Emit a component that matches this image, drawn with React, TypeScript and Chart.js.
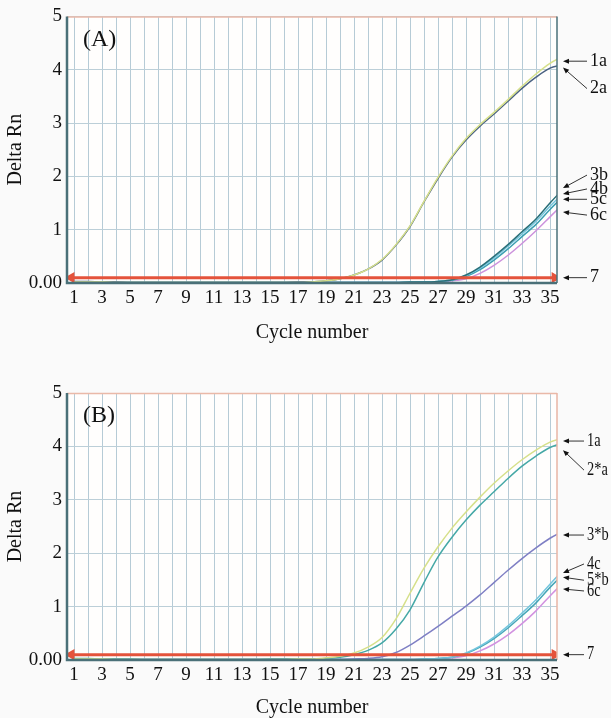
import React, { useEffect, useRef } from 'react';
import { Chart, registerables } from 'chart.js';
Chart.register(...registerables);

const cycles: number[] = Array.from({ length: 36 }, (_, i) => i + 1);
const xTickLabels: number[] = [1, 3, 5, 7, 9, 11, 13, 15, 17, 19, 21, 23, 25, 27, 29, 31, 33, 35];
const yTickLabels: string[] = ['0.00', '1', '2', '3', '4', '5'];
const threshold = 0.1;

// Panel A series (Delta Rn per cycle 1..36)
const a1a: number[] = [0.02,0.02,0.02,0.01,0.01,0.01,0.01,0.01,0.01,0.01,0.01,0.01,0.01,0.01,0.01,0.01,0.01,0.02,0.04,0.08,0.15,0.26,0.44,0.72,1.07,1.53,1.98,2.38,2.71,2.97,3.2,3.44,3.69,3.92,4.12,4.26];
const a2a: number[] = [0.03,0.03,0.02,0.02,0.01,0.01,0.01,0.01,0.01,0.01,0.01,0.01,0.01,0.01,0.01,0.01,0.02,0.02,0.04,0.08,0.15,0.26,0.43,0.71,1.06,1.52,1.96,2.36,2.68,2.94,3.17,3.41,3.65,3.86,4.03,4.1];
const a3b: number[] = [0.02,0.02,0.01,0.01,0.01,0.01,0.01,0.01,0.01,0.01,0.01,0.01,0.01,0.01,0.01,0.01,0.01,0.01,0.01,0.01,0.01,0.01,0.01,0.01,0.02,0.02,0.03,0.06,0.15,0.3,0.5,0.72,0.96,1.2,1.5,1.78];
const a4b: number[] = [0.01,0.01,0.01,0.01,0.01,0.01,0.01,0.01,0.01,0.01,0.01,0.01,0.01,0.01,0.01,0.01,0.01,0.01,0.01,0.01,0.01,0.01,0.01,0.01,0.02,0.02,0.03,0.06,0.14,0.28,0.47,0.69,0.92,1.16,1.44,1.7];
const a5c: number[] = [0.02,0.02,0.01,0.01,0.01,0.01,0.01,0.01,0.01,0.01,0.01,0.01,0.01,0.01,0.01,0.01,0.01,0.01,0.01,0.01,0.01,0.01,0.01,0.01,0.01,0.02,0.03,0.05,0.12,0.25,0.43,0.64,0.87,1.1,1.38,1.64];
const a6c: number[] = [0.01,0.01,0.01,0.01,0.01,0.01,0.01,0.01,0.01,0.01,0.01,0.01,0.01,0.01,0.01,0.01,0.01,0.01,0.01,0.01,0.01,0.01,0.01,0.01,0.01,0.02,0.02,0.04,0.08,0.18,0.33,0.52,0.74,0.98,1.24,1.5];

// Panel B series
const b1a: number[] = [0.02,0.02,0.02,0.01,0.01,0.01,0.01,0.01,0.01,0.01,0.01,0.01,0.01,0.01,0.01,0.01,0.02,0.02,0.04,0.07,0.13,0.24,0.42,0.77,1.25,1.72,2.12,2.47,2.77,3.05,3.31,3.54,3.75,3.93,4.08,4.16];
const b2a: number[] = [0.03,0.03,0.02,0.02,0.02,0.01,0.01,0.01,0.01,0.01,0.01,0.01,0.01,0.01,0.02,0.02,0.02,0.02,0.03,0.05,0.1,0.18,0.32,0.58,0.94,1.45,1.93,2.3,2.62,2.9,3.15,3.4,3.63,3.82,3.98,4.07];
const b3b: number[] = [0.01,0.01,0.01,0.01,0.01,0.01,0.01,0.01,0.01,0.01,0.01,0.01,0.01,0.01,0.01,0.01,0.01,0.01,0.01,0.01,0.02,0.03,0.06,0.14,0.28,0.45,0.63,0.82,1.01,1.22,1.45,1.68,1.9,2.1,2.28,2.42];
const b4c: number[] = [0.01,0.01,0.01,0.01,0.01,0.01,0.01,0.01,0.01,0.01,0.01,0.01,0.01,0.01,0.01,0.01,0.01,0.01,0.01,0.01,0.01,0.01,0.01,0.01,0.01,0.02,0.03,0.05,0.13,0.26,0.43,0.64,0.88,1.13,1.42,1.7];
const b5b: number[] = [0.01,0.01,0.01,0.01,0.01,0.01,0.01,0.01,0.01,0.01,0.01,0.01,0.01,0.01,0.01,0.01,0.01,0.01,0.01,0.01,0.01,0.01,0.01,0.01,0.01,0.02,0.03,0.05,0.12,0.24,0.4,0.6,0.83,1.07,1.36,1.62];
const b6c: number[] = [0.01,0.01,0.01,0.01,0.01,0.01,0.01,0.01,0.01,0.01,0.01,0.01,0.01,0.01,0.01,0.01,0.01,0.01,0.01,0.01,0.01,0.01,0.01,0.01,0.01,0.01,0.02,0.04,0.08,0.17,0.3,0.47,0.68,0.92,1.2,1.46];

// Right-hand labels: text, value where arrow points, vertical text offset (px)
const aNoteText: string[] = ['1a', '2a', '3b', '4b', '5c', '6c', '7'];
const aNoteTip: number[] = [4.16, 4.04, 1.78, 1.67, 1.57, 1.33, threshold];
const aNoteDy: number[] = [0, 21, -13, -5, 0, 3, 0];

const bNoteText: string[] = ['1a', '2*a', '3*b', '4c', '5*b', '6c', '7'];
const bNoteTip: number[] = [4.1, 3.93, 2.34, 1.63, 1.55, 1.33, threshold];
const bNoteDy: number[] = [0, 20, 0, -9, 3, 2, 0];

const SERIF = "'Liberation Serif', 'Times New Roman', serif";

type Series = { label: string; data: number[]; color: string };
type Props = {
  top: number;
  height: number;
  plotTop: number;
  xAxisH: number;
  titlePad: number;
  panel: string;
  series: Series[];
  noteText: string[];
  noteTip: number[];
  noteDy: number[];
  noteScaleX: number;
  noteGap: number;
  rightBorder: string;
};

function QpcrPanel(p: Props) {
  const ref = useRef<HTMLCanvasElement | null>(null);
  useEffect(() => {
    if (!ref.current) return;
    const decor = {
      id: 'decor',
      beforeDraw(chart: any) {
        const { ctx, chartArea: a } = chart;
        ctx.save();
        ctx.fillStyle = '#fffefd';
        ctx.fillRect(a.left, a.top, a.right - a.left, a.bottom - a.top);
        ctx.restore();
      },
      afterDraw(chart: any) {
        const { ctx, chartArea: a } = chart;
        const y = chart.scales.y;
        ctx.save();
        // frame
        ctx.lineWidth = 1.5;
        ctx.strokeStyle = '#eab9a8';
        ctx.beginPath();
        ctx.moveTo(a.left, a.top + 0.5);
        ctx.lineTo(a.right, a.top + 0.5);
        ctx.stroke();
        ctx.strokeStyle = p.rightBorder;
        ctx.beginPath();
        ctx.moveTo(a.right, a.top);
        ctx.lineTo(a.right, a.bottom);
        ctx.stroke();
        ctx.lineWidth = 2.5;
        ctx.strokeStyle = '#4a7078';
        ctx.beginPath();
        ctx.moveTo(a.left, a.top);
        ctx.lineTo(a.left, a.bottom);
        ctx.lineTo(a.right, a.bottom);
        ctx.stroke();
        // panel label
        ctx.fillStyle = '#111';
        ctx.font = `24px ${SERIF}`;
        ctx.textAlign = 'left';
        ctx.textBaseline = 'middle';
        ctx.fillText(p.panel, a.left + 16, a.top + 23);
        // notes
        ctx.font = `18px ${SERIF}`;
        ctx.strokeStyle = '#333';
        ctx.fillStyle = '#111';
        ctx.lineWidth = 1;
        const tipX = a.right + 6;
        const textX = a.right + p.noteGap;
        p.noteText.forEach((t, i) => {
          const ty = y.getPixelForValue(p.noteTip[i]);
          const ly = ty + p.noteDy[i];
          const ex = textX - 3;
          const ang = Math.atan2(ly - ty, ex - tipX);
          ctx.beginPath();
          ctx.moveTo(tipX + 3 * Math.cos(ang), ty + 3 * Math.sin(ang));
          ctx.lineTo(ex, ly);
          ctx.stroke();
          const hl = 6, hw = 2.5;
          const bx = tipX + hl * Math.cos(ang), by = ty + hl * Math.sin(ang);
          ctx.beginPath();
          ctx.moveTo(tipX, ty);
          ctx.lineTo(bx - hw * Math.sin(ang), by + hw * Math.cos(ang));
          ctx.lineTo(bx + hw * Math.sin(ang), by - hw * Math.cos(ang));
          ctx.closePath();
          ctx.fill();
          ctx.save();
          ctx.translate(textX, ly);
          ctx.scale(p.noteScaleX, 1);
          ctx.fillText(t, 0, 0);
          ctx.restore();
        });
        ctx.restore();
      },
    };
    const datasets: any[] = p.series.map((s) => ({
      label: s.label,
      data: cycles.map((c, i) => ({ x: c, y: s.data[i] })),
      borderColor: s.color,
      borderWidth: 1.5,
      pointRadius: 0,
      cubicInterpolationMode: 'monotone',
      clip: 0,
      order: 1,
    }));
    datasets.push({
      label: '7',
      data: [
        { x: 0.8, y: threshold },
        { x: 35.35, y: threshold },
      ],
      borderColor: '#e4533b',
      backgroundColor: '#e4533b',
      borderWidth: 3,
      pointRadius: 3.5,
      pointStyle: 'triangle',
      pointRotation: [-90, 90],
      order: -1,
    });
    const chart = new Chart(ref.current, {
      type: 'line',
      data: { datasets },
      plugins: [decor],
      options: {
        animation: false,
        responsive: false,
        events: [],
        layout: { padding: { left: 0, top: p.plotTop, right: 54, bottom: 0 } },
        plugins: { legend: { display: false }, tooltip: { enabled: false } },
        scales: {
          x: {
            type: 'linear',
            min: 0.5,
            max: 35.5,
            afterFit: (s: any) => { s.height = p.xAxisH; },
            afterBuildTicks: (s: any) => {
              const t: any[] = [];
              for (let v = 1; v <= 35; v++) t.push({ value: v });
              s.ticks = t;
            },
            grid: { color: '#b6cbd6', lineWidth: 1, drawTicks: false },
            border: { display: false },
            ticks: {
              autoSkip: false,
              maxRotation: 0,
              padding: 4,
              color: '#111',
              font: { family: SERIF, size: 19 },
              callback: (v: any) => (xTickLabels.includes(Number(v)) ? String(v) : ''),
            },
            title: {
              display: true,
              text: 'Cycle number',
              color: '#111',
              font: { family: SERIF, size: 20, lineHeight: 1 },
              padding: { top: 0, bottom: p.titlePad },
            },
          },
          y: {
            type: 'linear',
            min: 0,
            max: 5,
            afterFit: (s: any) => { s.width = 67; },
            grid: { color: '#bccfd8', lineWidth: 1, drawTicks: false },
            border: { display: false },
            ticks: {
              stepSize: 1,
              padding: 5,
              color: '#111',
              font: { family: SERIF, size: 19 },
              callback: (v: any) => yTickLabels[Number(v)] ?? '',
            },
            title: {
              display: true,
              text: 'Delta Rn',
              color: '#111',
              font: { family: SERIF, size: 20, lineHeight: 1 },
              padding: { top: 6, bottom: 0 },
            },
          },
        },
      } as any,
    });
    return () => chart.destroy();
  }, []);
  return (
    <canvas
      ref={ref}
      width={611}
      height={p.height}
      style={{ position: 'absolute', left: 0, top: p.top, width: 611, height: p.height }}
    />
  );
}

export default function App() {
  const seriesA: Series[] = [
    { label: '1a', data: a1a, color: '#d6e08a' },
    { label: '2a', data: a2a, color: '#4b6282' },
    { label: '3b', data: a3b, color: '#2a6f78' },
    { label: '4b', data: a4b, color: '#72c4dc' },
    { label: '5c', data: a5c, color: '#3b9fb2' },
    { label: '6c', data: a6c, color: '#cc92dc' },
  ];
  const seriesB: Series[] = [
    { label: '1a', data: b1a, color: '#d6e08a' },
    { label: '2*a', data: b2a, color: '#45a8a6' },
    { label: '3*b', data: b3b, color: '#7f7fc4' },
    { label: '4c', data: b4c, color: '#74c6de' },
    { label: '5*b', data: b5b, color: '#46a6b8' },
    { label: '6c', data: b6c, color: '#d292e0' },
  ];
  return (
    <div style={{ position: 'absolute', left: 0, top: 0, width: 611, height: 718, background: '#fafafa', overflow: 'hidden' }}>
      <QpcrPanel
        top={0}
        height={359}
        plotTop={16}
        xAxisH={76}
        titlePad={16}
        panel="(A)"
        series={seriesA}
        noteText={aNoteText}
        noteTip={aNoteTip}
        noteDy={aNoteDy}
        noteScaleX={1}
        noteGap={33}
        rightBorder="#4a7078"
      />
      <QpcrPanel
        top={359}
        height={359}
        plotTop={34}
        xAxisH={58}
        titlePad={0}
        panel="(B)"
        series={seriesB}
        noteText={bNoteText}
        noteTip={bNoteTip}
        noteDy={bNoteDy}
        noteScaleX={0.8}
        noteGap={30}
        rightBorder="#e8b4a4"
      />
    </div>
  );
}
